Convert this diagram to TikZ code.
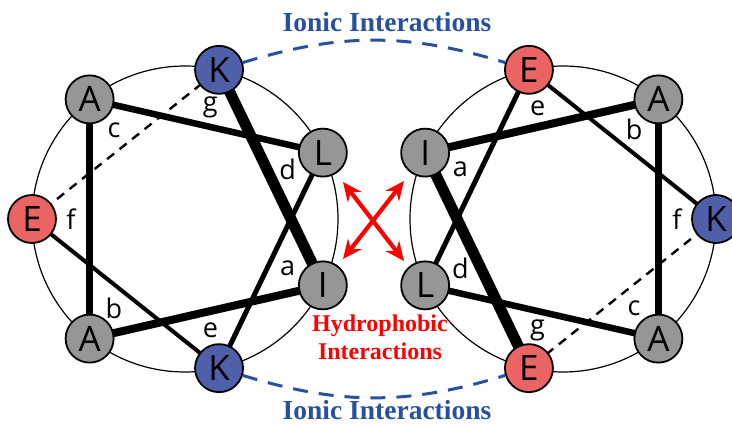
\documentclass[tikz,border=0pt]{standalone}
\usepackage{fontspec}
\setmainfont{Liberation Serif}
\setsansfont{Open Sans}
\usepackage{tikz}
\usetikzlibrary{arrows.meta,calc,backgrounds}
\definecolor{lysblue}{RGB}{80,95,170}
\definecolor{glured}{RGB}{235,100,100}
\definecolor{resgray}{RGB}{150,150,150}
\definecolor{ionblue}{RGB}{40,80,160}
\definecolor{hydred}{RGB}{255,0,0}

\begin{document}
\begin{tikzpicture}[x=1pt, y=1pt,
  res/.style={circle, draw=black, line width=1.8pt, minimum size=48pt, inner sep=0pt,
              font=\sffamily\fontsize{35}{35}\selectfont},
  hydres/.style={res, fill=resgray},
  basicres/.style={res, fill=lysblue},
  acidres/.style={res, fill=glured},
  hept/.style={font=\sffamily\fontsize{27}{27}\selectfont, inner sep=0pt},
  wheel/.style={draw=black, line width=1.2pt},
  bond/.style={line width=#1pt, line cap=butt},
  ionic/.style={draw=ionblue, line width=3pt, dash pattern=on 15pt off 11pt},
  title/.style={font=\bfseries\fontsize{27.5}{30}\selectfont, text=ionblue, anchor=base},
  xarrow/.style={draw=hydred, line width=4.2pt, {Stealth[length=19pt,width=17pt]}-{Stealth[length=19pt,width=17pt]}}]
\useasboundingbox (0,0) rectangle (732,425);
\coordinate (wl) at (185,206);
\coordinate (wr) at (563,206);

% left heptad wheel
\node[hydres] (la) at ($(wl)+(-25.71:153)$) {I};
\node[hydres] (lb) at ($(wl)+(-128.57:153)$) {A};
\node[hydres] (lc) at ($(wl)+(128.57:153)$) {A};
\node[hydres] (ld) at ($(wl)+(25.71:153)$) {L};
\node[basicres] (le) at ($(wl)+(-77.14:153)$) {K};
\node[acidres] (lf) at ($(wl)+(180:153)$) {E};
\node[basicres] (lg) at ($(wl)+(77.14:153)$) {K};
\foreach \p/\ang in {a/-25.71, b/-128.57, c/128.57, d/25.71, e/-77.14, f/180, g/77.14}
  \node[hept] (lt\p) at ($(wl)+(\ang:114)$) {\p};

% right heptad wheel
\node[hydres] (ra) at ($(wr)+(154.29:153)$) {I};
\node[hydres] (rb) at ($(wr)+(51.43:153)$) {A};
\node[hydres] (rc) at ($(wr)+(-51.43:153)$) {A};
\node[hydres] (rd) at ($(wr)+(205.71:153)$) {L};
\node[acidres] (re) at ($(wr)+(102.86:153)$) {E};
\node[basicres] (rf) at ($(wr)+(0:153)$) {K};
\node[acidres] (rg) at ($(wr)+(-102.86:153)$) {E};
\foreach \p/\ang in {a/154.29, b/51.43, c/-51.43, d/205.71, e/102.86, f/0, g/-102.86}
  \node[hept] (rt\p) at ($(wr)+(\ang:114)$) {\p};

\begin{scope}[on background layer]
  \draw[wheel] (wl) circle (153);
  \draw[wheel] (wr) circle (153);
  \foreach \w in {l,r} {
    \draw[bond=11] (\w g.center) -- (\w a.center);
    \draw[bond=8] (\w a.center) -- (\w b.center);
    \draw[bond=7.5] (\w b.center) -- (\w c.center);
    \draw[bond=6.5] (\w c.center) -- (\w d.center);
    \draw[bond=5] (\w d.center) -- (\w e.center);
    \draw[bond=4] (\w e.center) -- (\w f.center);
    \draw[bond=2.4, dash pattern=on 9pt off 7pt] (\w f.center) -- (\w g.center);
  }
\end{scope}

% interactions between the two helices
\draw[ionic] (lg) to[bend left=17] (re);
\draw[ionic] (le) to[bend right=17] (rg);
\node[title] (iontop) at (387,393) {Ionic Interactions};
\node[title] (ionbot) at (387,5) {Ionic Interactions};
\node[font=\bfseries\fontsize{24}{28}\selectfont, text=hydred, align=center, anchor=base]
  (hydro) at (380,65) {Hydrophobic\\Interactions};

\coordinate (x1) at (343,243);
\coordinate (x2) at (404,164);
\coordinate (x3) at (343,166);
\coordinate (x4) at (404,244);
\draw[xarrow] (x1) -- (x2);
\draw[xarrow] (x3) -- (x4);
\end{tikzpicture}
\end{document}
